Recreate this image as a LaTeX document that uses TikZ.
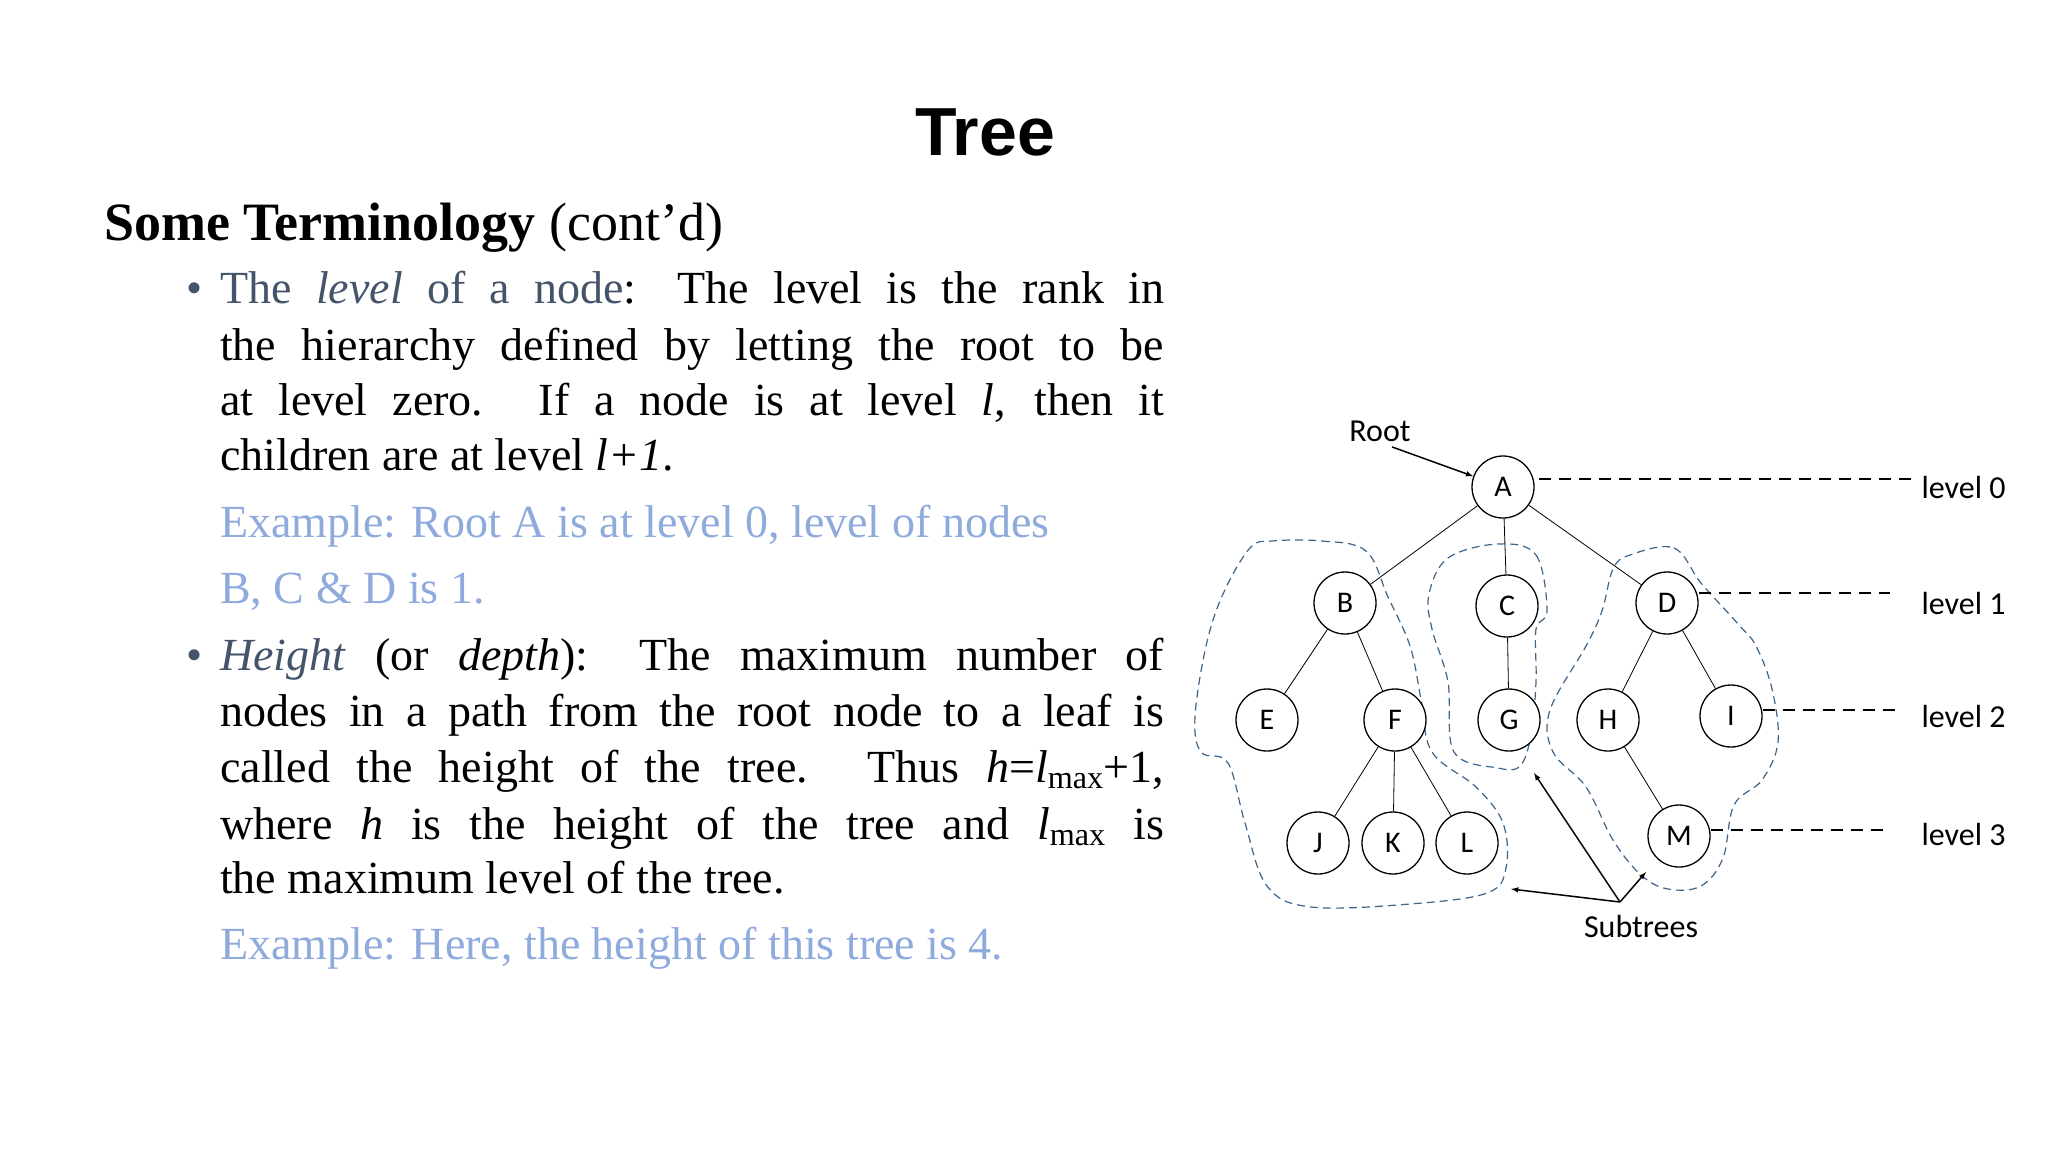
\documentclass[tikz,border=0pt]{standalone}
\usepackage{fontspec}
\setmainfont{Liberation Serif}
\newfontfamily\headfont{Liberation Sans}
\newfontfamily\calfont{Carlito}
\definecolor{slate}{RGB}{68,84,106}
\definecolor{exblue}{RGB}{143,170,220}
\definecolor{blobblue}{RGB}{60,100,140}
\begin{document}
\begin{tikzpicture}[x=1pt,y=-1pt,
  tn/.style={circle,draw,line width=1.3pt,minimum size=62pt,inner sep=0pt,font=\calfont\fontsize{30}{30}\selectfont},
  lvl/.style={anchor=west,font=\calfont\fontsize{32}{32}\selectfont},
  lvldash/.style={dashed,line width=1.6pt,dash pattern=on 12pt off 8pt},
  blob/.style={draw=blobblue,dashed,line width=1.2pt,dash pattern=on 8pt off 5pt},
  ln/.style={anchor=base west,inner sep=0pt,font=\fontsize{46}{46}\selectfont},
  edge/.style={line width=0.8pt},
  arr/.style={->,>=latex,line width=1.5pt}]
\useasboundingbox (0,0) rectangle (2048,1152);
\fill[white] (0,0) rectangle (2048,1152);
% title
\node[font=\headfont\bfseries\fontsize{68}{68}\selectfont] (title) at (985,132) {Tree};
\node[ln,font=\fontsize{54}{54}\selectfont] (head) at (104,240) {\textbf{Some Terminology} (cont'd)};
% bullet 1
\node[ln,text=slate] (b1) at (186,303) {\textbullet};
\node[ln] (l1) at (220,303) {\makebox[944pt][s]{\textcolor{slate}{The \textit{level} of a node}: The level is the rank in}};
\node[ln] (l2) at (220,360) {\makebox[944pt][s]{the hierarchy defined by letting the root to be}};
\node[ln] (l3) at (220,415) {\makebox[944pt][s]{at level zero. If a node is at level \textit{l}, then it}};
\node[ln] (l4) at (220,470) {children are at level \textit{l+1}.};
\node[ln,text=exblue] (e1) at (220,537) {Example: Root A is at level 0, level of nodes};
\node[ln,text=exblue] (e2) at (220,603) {B, C \& D is 1.};
% bullet 2
\node[ln,text=slate] (b2) at (186,670) {\textbullet};
\node[ln] (m1) at (220,670) {\makebox[944pt][s]{\textcolor{slate}{\textit{Height}} (or \textit{depth}): The maximum number of}};
\node[ln] (m2) at (220,726) {\makebox[944pt][s]{nodes in a path from the root node to a leaf is}};
\node[ln] (m3) at (220,782) {\makebox[944pt][s]{called the height of the tree. Thus \textit{h}=\textit{l}\textsubscript{max}+1,}};
\node[ln] (m4) at (220,839) {\makebox[944pt][s]{where \textit{h} is the height of the tree and \textit{l}\textsubscript{max} is}};
\node[ln] (m5) at (220,893) {the maximum level of the tree.};
\node[ln,text=exblue] (e3) at (220,959) {Example: Here, the height of this tree is 4.};
% blobs
\draw[blob] plot[smooth cycle,tension=0.6] coordinates {(1272,541)(1322,541)(1366,551)(1388,597)(1410,646)(1421,699)(1432,752)(1476,787)(1503,823)(1506,868)(1487,893)(1410,904)(1311,907)(1267,886)(1245,823)(1228,763)(1201,752)(1195,717)(1206,646)(1223,594)(1250,548)};
\draw[blob] plot[smooth cycle,tension=0.6] coordinates {(1498,544)(1536,555)(1547,611)(1536,629)(1536,682)(1531,735)(1520,766)(1498,768)(1454,752)(1448,682)(1432,629)(1429,594)(1448,558)};
\draw[blob] plot[smooth cycle,tension=0.6] coordinates {(1630,555)(1674,548)(1701,583)(1739,625)(1756,646)(1772,689)(1778,742)(1762,780)(1734,805)(1723,858)(1701,886)(1668,889)(1641,875)(1613,840)(1586,787)(1553,752)(1550,710)(1586,646)(1602,611)(1613,569)};
% tree
\node[tn,fill=white] (A) at (1503,487) {A};
\node[tn,fill=white] (B) at (1345,603) {B};
\node[tn,fill=white] (C) at (1507,606) {C};
\node[tn,fill=white] (D) at (1667,603) {D};
\node[tn,fill=white] (E) at (1267,720) {E};
\node[tn,fill=white] (F) at (1395,720) {F};
\node[tn,fill=white] (G) at (1509,720) {G};
\node[tn,fill=white] (H) at (1608,720) {H};
\node[tn,fill=white] (I) at (1731,716) {I};
\node[tn,fill=white] (J) at (1318,843) {J};
\node[tn,fill=white] (K) at (1393,843) {K};
\node[tn,fill=white] (L) at (1467,843) {L};
\node[tn,fill=white] (M) at (1679,836) {M};
\draw[edge] (A)--(B) (A)--(C) (A)--(D) (B)--(E) (B)--(F) (C)--(G) (D)--(H) (D)--(I) (F)--(J) (F)--(K) (F)--(L) (H)--(M);
% root
\node[font=\calfont\fontsize{32}{32}\selectfont] (root) at (1380,431) {Root};
\draw[arr] (root.south) ++(12,2) coordinate (rs) -- (A);
% levels
\node[lvl] (v0) at (1918,487) {level 0};
\node[lvl] (v1) at (1918,603) {level 1};
\node[lvl] (v2) at (1918,716) {level 2};
\node[lvl] (v3) at (1918,834) {level 3};
\draw[lvldash] (A.east) ++(4,-8) -- (v0.west|-{(0,479)});
\draw[lvldash] (D.east) ++(0,-10) -- (1890,593);
\draw[lvldash] (I.east) ++(0,-6) -- (1898,710);
\draw[lvldash] (M.east) ++(0,-6) -- (1890,830);
% subtrees
\node[font=\calfont\fontsize{32}{32}\selectfont] (sub) at (1641,926) {Subtrees};
\coordinate (sp) at (1620,902);
\coordinate (t1) at (1511,889);
\coordinate (t2) at (1534,773);
\coordinate (t3) at (1646,872);
\draw[arr] (sp) -- (t1);
\draw[arr] (sp) -- (t2);
\draw[arr] (sp) -- (t3);
\end{tikzpicture}
\end{document}
